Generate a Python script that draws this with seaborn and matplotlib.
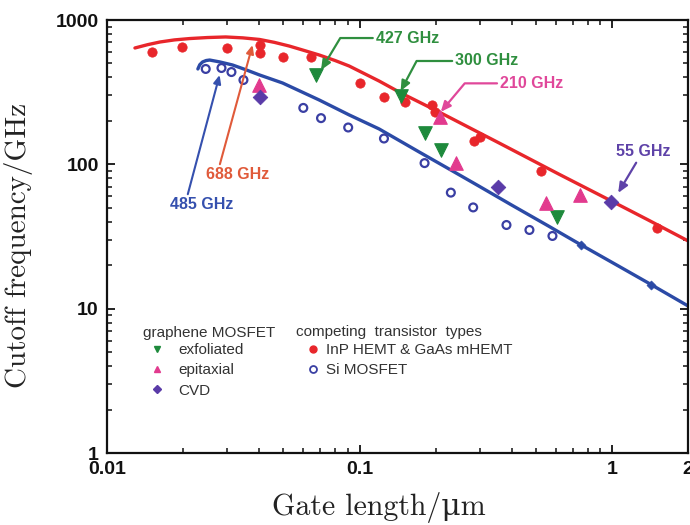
import matplotlib
matplotlib.use("Agg")
import matplotlib.pyplot as plt
import seaborn as sns
from matplotlib.lines import Line2D
from matplotlib.ticker import FixedLocator, FixedFormatter, LogLocator, NullFormatter

# gate length (um) / cutoff frequency (GHz)
inp_x = [0.0151, 0.0198, 0.0298, 0.0402, 0.0402, 0.0499, 0.0644, 0.100, 0.125,
         0.151, 0.193, 0.199, 0.283, 0.301, 0.522, 1.51]
inp_y = [603, 653, 637, 671, 588, 552, 555, 364, 295, 270, 258, 230, 144, 155, 90, 36.4]

si_x = [0.0246, 0.0284, 0.0311, 0.0347, 0.0599, 0.0704, 0.0902, 0.125, 0.181,
        0.230, 0.282, 0.382, 0.471, 0.581]
si_y = [458, 465, 436, 384, 246, 209, 180, 151, 102, 63.7, 50.3, 38.0, 35.1, 31.9]

si_on_fit_x = [0.756, 1.43]
si_on_fit_y = [27.4, 14.6]

exf_x = [0.0674, 0.1455, 0.1815, 0.210, 0.604]
exf_y = [416, 298, 164, 126, 43.4]

epi_x = [0.040, 0.209, 0.240, 0.550, 0.749]
epi_y = [355, 214, 102, 53.8, 60.9]

cvd_x = [0.0402, 0.353, 0.995]
cvd_y = [294, 69.4, 55.2]

# trend curves
inp_fit_x = [0.0129, 0.0145, 0.0162, 0.0185, 0.0213, 0.0250, 0.0295, 0.0345, 0.0402,
             0.0460, 0.0527, 0.0600, 0.0693, 0.0800, 0.0910, 0.1195, 0.146, 0.206,
             0.356, 0.614, 0.993, 1.39, 2.0]
inp_fit_y = [640, 675, 704, 728, 744, 756, 763, 752, 733, 700, 660, 617, 572, 524, 480,
             378, 312, 231, 141, 85.8, 55.8, 41.2, 29.5]
si_fit_x = [0.0229, 0.0233, 0.0239, 0.0247, 0.0255, 0.0280, 0.0314, 0.0355, 0.0402,
            0.0496, 0.0693, 0.0910, 0.1195, 0.172, 0.220, 0.297, 0.400, 0.560, 0.756,
            1.058, 1.39, 2.0]
si_fit_y = [458, 490, 512, 524, 528, 512, 488, 452, 416, 366, 279, 220, 176, 122, 95.5,
            70.7, 52.3, 37.4, 27.6, 19.8, 15.1, 10.45]

x_ticks = [0.01, 0.1, 1, 2]
x_labels = ["0.01", "0.1", "1", "2"]
y_ticks = [1, 10, 100, 1000]
y_labels = ["1", "10", "100", "1000"]

red = "#e8262b"
blue_line = "#2b4aa6"
blue_pt = "#3a3fa3"
green = "#1e8a3c"
pink = "#e23a8e"
purple = "#5a3ba8"

sns.set_theme(style="ticks")
plt.rcParams["font.family"] = ["Liberation Sans", "DejaVu Sans"]

fig = plt.figure(figsize=(6.9, 5.25), dpi=100)
ax = fig.add_axes([0.1551, 0.1371, 0.842, 0.8248])
ax.set_xscale("log")
ax.set_yscale("log")

sns.lineplot(x=inp_fit_x, y=inp_fit_y, color=red, lw=2.4, estimator=None, ax=ax, zorder=2)
sns.lineplot(x=si_fit_x, y=si_fit_y, color=blue_line, lw=2.4, estimator=None, ax=ax, zorder=2)

sns.scatterplot(x=inp_x, y=inp_y, marker="o", s=45, color=red, edgecolor=red, ax=ax, zorder=3)
sns.scatterplot(x=si_x, y=si_y, marker="o", s=32, facecolors="none", edgecolors=blue_pt,
                linewidth=1.6, ax=ax, zorder=3)
sns.scatterplot(x=si_on_fit_x, y=si_on_fit_y, marker="D", s=22, color=blue_line,
                edgecolor=blue_line, ax=ax, zorder=3)
sns.scatterplot(x=exf_x, y=exf_y, marker="v", s=95, color=green, edgecolor=green, ax=ax, zorder=4)
sns.scatterplot(x=epi_x, y=epi_y, marker="^", s=95, color=pink, edgecolor=pink, ax=ax, zorder=4)
sns.scatterplot(x=cvd_x, y=cvd_y, marker="D", s=55, color=purple, edgecolor=purple, ax=ax, zorder=4)

ax.set_xlim(0.01, 2)
ax.set_ylim(1, 1000)

ax.xaxis.set_major_locator(FixedLocator(x_ticks))
ax.xaxis.set_major_formatter(FixedFormatter(x_labels))
ax.xaxis.set_minor_locator(LogLocator(base=10, subs=range(2, 10)))
ax.xaxis.set_minor_formatter(NullFormatter())
ax.yaxis.set_major_locator(FixedLocator(y_ticks))
ax.yaxis.set_major_formatter(FixedFormatter(y_labels))
ax.yaxis.set_minor_locator(LogLocator(base=10, subs=range(2, 10)))
ax.yaxis.set_minor_formatter(NullFormatter())

ax.tick_params(which="both", direction="in", top=True, right=True, color="#111111")
ax.tick_params(which="major", length=6, width=1.3, pad=6, labelsize=14)
ax.tick_params(which="minor", length=3.5, width=1.1)
for lab in ax.get_xticklabels() + ax.get_yticklabels():
    lab.set_fontweight("bold")
    lab.set_color("#111111")
for sp in ax.spines.values():
    sp.set_linewidth(1.6)
    sp.set_color("#111111")

serif = ["cmr10", "DejaVu Serif"]
ax.set_xlabel("Gate length/\u03bcm", family=serif, fontsize=21.5, color="#222222")
ax.set_ylabel("Cutoff frequency/GHz", family=serif, fontsize=21, color="#222222")
ax.xaxis.set_label_coords(0.467, -0.09)
ax.yaxis.set_label_coords(-0.127, 0.48)

# annotations
ann_font = dict(fontsize=11.5, fontweight="bold", va="center")
head = "-|>,head_length=0.5,head_width=0.22"


def elbow(text, xy, xytext, color, angle):
    ax.annotate(text, xy=xy, xytext=xytext, color=color, ha="left", **ann_font,
                arrowprops=dict(arrowstyle=head, color=color, lw=1.6, mutation_scale=12,
                                shrinkA=0, shrinkB=0, relpos=(0, 0.5),
                                connectionstyle=f"angle,angleA=0,angleB={angle},rad=0"))


elbow("427 GHz", (0.0704, 450), (0.1163, 750), "#2f8f3f", 59)
elbow("300 GHz", (0.1455, 322), (0.2399, 520), "#2f8f3f", 62)
elbow("210 GHz", (0.2099, 231), (0.3611, 364), "#e0479a", 50)

ax.annotate("55 GHz", xy=(1.058, 63.4), xytext=(1.334, 121.9), color="#5e42a8",
            ha="center", **ann_font,
            arrowprops=dict(arrowstyle=head, color="#5e42a8", lw=1.6, mutation_scale=12,
                            shrinkA=0, shrinkB=0, relpos=(0.4, 0)))
ax.annotate("688 GHz", xy=(0.0377, 671), xytext=(0.02474, 84.4), color="#e05a3a",
            ha="left", **ann_font,
            arrowprops=dict(arrowstyle=head, color="#e05a3a", lw=1.5, mutation_scale=10,
                            shrinkA=0, shrinkB=0, relpos=(0.2, 1)))
ax.annotate("485 GHz", xy=(0.02792, 416), xytext=(0.01773, 52.3), color="#3550ae",
            ha="left", **ann_font,
            arrowprops=dict(arrowstyle=head, color="#3550ae", lw=1.5, mutation_scale=10,
                            shrinkA=0, shrinkB=0, relpos=(0.27, 1)))

# legend
leg_prop = dict(family="Liberation Sans", size=11)
ax.text(0.062, 0.277, "graphene MOSFET", transform=ax.transAxes, ha="left", va="center",
        fontsize=11, color="#333333")
ax.text(0.3253, 0.2794, "competing  transistor  types", transform=ax.transAxes, ha="left",
        va="center", fontsize=11, color="#333333")

h1 = [Line2D([], [], ls="none", marker="v", ms=5, color=green),
      Line2D([], [], ls="none", marker="^", ms=5, color=pink),
      Line2D([], [], ls="none", marker="D", ms=4, color=purple)]
leg1 = ax.legend(h1, ["exfoliated", "epitaxial", "CVD"], loc="upper left",
                 bbox_to_anchor=(0.0735, 0.254), frameon=False, borderpad=0,
                 borderaxespad=0, handlelength=1.0, handletextpad=0.87, labelspacing=0.41,
                 prop=leg_prop, labelcolor="#333333")
ax.add_artist(leg1)
h2 = [Line2D([], [], ls="none", marker="o", ms=5, color=red),
      Line2D([], [], ls="none", marker="o", ms=5, mfc="none", mec=blue_pt, mew=1.3)]
ax.legend(h2, ["InP HEMT & GaAs mHEMT", "Si MOSFET"], loc="upper left",
          bbox_to_anchor=(0.3446, 0.254), frameon=False, borderpad=0, borderaxespad=0,
          handlelength=0.8, handletextpad=0.4, labelspacing=0.41, prop=leg_prop,
          labelcolor="#333333")

fig.savefig("out.png", dpi=100)
